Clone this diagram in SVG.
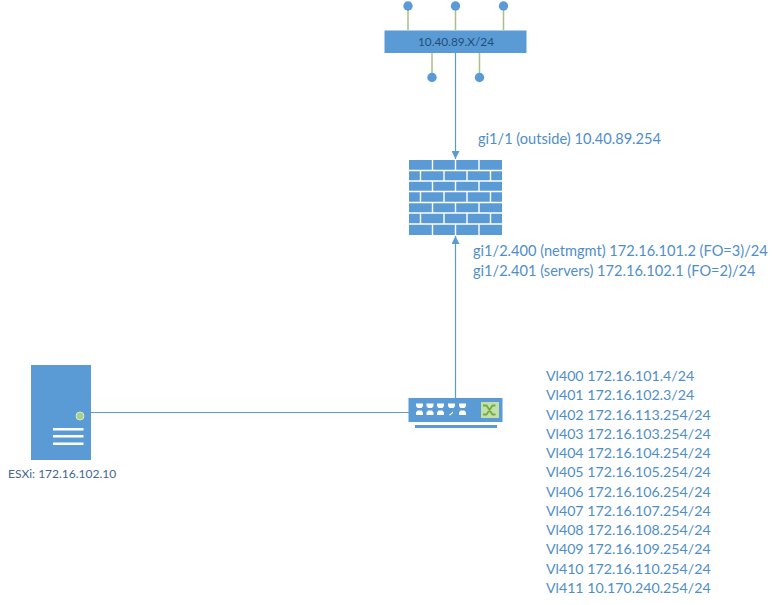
<svg xmlns="http://www.w3.org/2000/svg" width="775" height="605" viewBox="0 0 775 605">
<style>
.t{font-family:Lato,"Open Sans",sans-serif;font-size:14.2px;fill:#4f8ec9}
.u{font-family:Lato,"Open Sans",sans-serif;font-size:14.6px;fill:#4f8ec9}
.s{font-family:Lato,"Open Sans",sans-serif;font-size:12px;fill:#44688c}
.n{font-family:Lato,"Open Sans",sans-serif;font-size:11.800px;fill:#1f4e79}
.b{fill:#5b9bd5}
.c{stroke:#5b9bd5;stroke-width:1.2;fill:none}
.g{stroke:#a9c08a;stroke-width:1.5;fill:none}
.w{fill:#fff}
</style>
<defs>
<marker id="a" markerUnits="userSpaceOnUse" markerWidth="9" markerHeight="8" refX="8" refY="4" orient="auto"><path d="M0 0L8 4L0 8Z" fill="#5b9bd5"/></marker>
</defs>
<rect width="775" height="605" fill="#fff"/>
<g id="connectors">
<line class="c" x1="455.500" y1="53" x2="455.500" y2="159" marker-end="url(#a)"/>
<line class="c" x1="455.500" y1="398" x2="455.500" y2="236" marker-end="url(#a)"/>
<line class="c" x1="91" y1="412.500" x2="409" y2="412.500"/>
</g>
<g id="subnet">
<path class="g" d="M408 6V30M455.500 6V30M503.500 6V30M432 53V77M479.500 53V77"/>
<circle class="b" cx="408" cy="6" r="4.700"/><circle class="b" cx="455.500" cy="6" r="4.700"/><circle class="b" cx="503.500" cy="6" r="4.700"/>
<circle class="b" cx="432" cy="77.500" r="4.700"/><circle class="b" cx="479.500" cy="77.500" r="4.700"/>
<rect class="b" x="384.500" y="30.500" width="142" height="22.500"/>
<text class="n" x="456" y="46" text-anchor="middle">10.40.89.X/24</text>
</g>
<g id="firewall">
<rect class="b" x="409" y="160" width="93" height="75"/>
<path stroke="#fff" stroke-width="1.400" fill="none" d="M409 170.500H502M409 181H502M409 191.500H502M409 202.500H502M409 213H502M409 224H502M432.500 160V170.500M455.500 160V170.500M479 160V170.500M420.500 170.500V181M444 170.500V181M467 170.500V181M490.500 170.500V181M432.500 181V191.500M455.500 181V191.500M479 181V191.500M420.500 191.500V202.500M444 191.500V202.500M467 191.500V202.500M490.500 191.500V202.500M432.500 202.500V213M455.500 202.500V213M479 202.500V213M420.500 213V224M444 213V224M467 213V224M490.500 213V224M432.500 224V235M455.500 224V235M479 224V235"/>
</g>
<g id="switch">
<rect class="b" x="408.500" y="398" width="94" height="24"/>
<rect class="b" x="415" y="425" width="82" height="3"/>
<g class="w">
<path d="M416 403.500h7v2.500l-1.500 2h-4l-1.500-2zM426.500 403.500h7v2.500l-1.500 2h-4l-1.500-2zM437 403.500h7v2.500l-1.500 2h-4l-1.500-2zM448 403.500h7v2.500l-1.500 2h-4l-1.500-2zM459 403.500h7v2.500l-1.500 2h-4l-1.500-2z"/>
<path d="M416 415h7v-2.500l-1.500-2h-4l-1.500 2zM426.500 415h7v-2.500l-1.500-2h-4l-1.500 2zM437 415h7v-2.500l-1.500-2h-4l-1.500 2zM459 415h7v-2.500l-1.500-2h-4l-1.500 2z"/>
<path d="M449 415l4-3.500v1.500l-3 2.500z"/>
</g>
<rect x="481" y="402" width="18" height="16" fill="#c5dfa8"/>
<path d="M483 405.500h3.500l6 9h3M483 414.500h3.500l6-9h3" stroke="#70ad47" stroke-width="1.800" fill="none"/>
</g>
<g id="server">
<rect class="b" x="31" y="365" width="60" height="95"/>
<circle cx="80" cy="416" r="4" fill="#a9d18e" stroke="#d5e8c8" stroke-width="1"/>
<rect class="w" x="53" y="428" width="30.500" height="2.500"/>
<rect class="w" x="53" y="435" width="30.500" height="2.500"/>
<rect class="w" x="53" y="442.500" width="30.500" height="2.500"/>
<text class="s" x="8" y="478">ESXi: 172.16.102.10</text>
</g>
<g id="labels">
<text class="u" x="478" y="144">gi1/1 (outside) 10.40.89.254</text>
<text class="u" x="473" y="256">gi1/2.400 (netmgmt) 172.16.101.2 (FO=3)/24</text>
<text class="u" x="473" y="276">gi1/2.401 (servers) 172.16.102.1 (FO=2)/24</text>
<text class="t" x="546" y="381">Vl400 172.16.101.4/24</text>
<text class="t" x="546" y="400">Vl401 172.16.102.3/24</text>
<text class="t" x="546" y="420">Vl402 172.16.113.254/24</text>
<text class="t" x="546" y="439">Vl403 172.16.103.254/24</text>
<text class="t" x="546" y="458">Vl404 172.16.104.254/24</text>
<text class="t" x="546" y="477">Vl405 172.16.105.254/24</text>
<text class="t" x="546" y="497">Vl406 172.16.106.254/24</text>
<text class="t" x="546" y="516">Vl407 172.16.107.254/24</text>
<text class="t" x="546" y="535">Vl408 172.16.108.254/24</text>
<text class="t" x="546" y="554">Vl409 172.16.109.254/24</text>
<text class="t" x="546" y="574">Vl410 172.16.110.254/24</text>
<text class="t" x="546" y="593">Vl411 10.170.240.254/24</text>
</g>
</svg>
